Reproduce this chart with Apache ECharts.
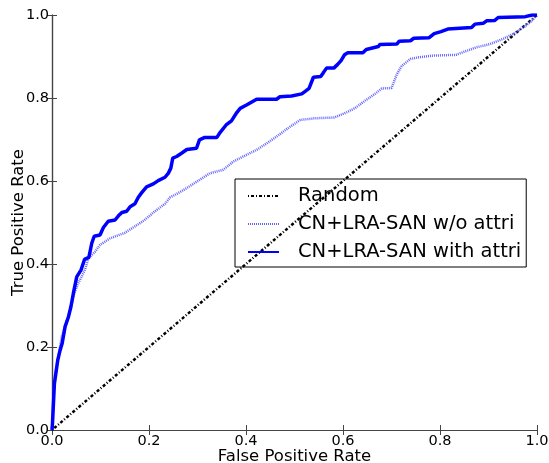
<!DOCTYPE html>
<html><head><meta charset="utf-8">
<script src="https://cdn.jsdelivr.net/npm/echarts@6/dist/echarts.min.js"></script>
<style>html,body{margin:0;padding:0;background:#fff}#c{width:549px;height:463px}</style>
</head><body><div id="c"></div>
<script>
var seriesNames = ['Random', 'CN+LRA-SAN w/o attri', 'CN+LRA-SAN with attri'];
var xTicks = [0, 0.2, 0.4, 0.6, 0.8, 1.0];
var randomFPR = [0, 1];
var randomTPR = [0, 1];
var woFPR = [0,0.002,0.004,0.006,0.013,0.02,0.027,0.034,0.04,0.046,0.054,0.068,0.075,0.089,0.099,0.12,0.15,0.17,0.19,0.21,0.233,0.243,0.271,0.298,0.326,0.353,0.374,0.401,0.422,0.443,0.463,0.484,0.491,0.512,0.54,0.582,0.603,0.624,0.645,0.666,0.68,0.70,0.711,0.721,0.739,0.756,0.784,0.833,0.851,0.875,0.903,0.931,0.952,0.973,0.99,1];
var woTPR = [0,0.05,0.1,0.13,0.177,0.225,0.25,0.275,0.3,0.33,0.353,0.386,0.414,0.43,0.446,0.462,0.475,0.49,0.505,0.525,0.545,0.56,0.578,0.598,0.619,0.627,0.647,0.663,0.675,0.691,0.707,0.725,0.731,0.747,0.751,0.753,0.763,0.775,0.793,0.81,0.823,0.824,0.857,0.877,0.894,0.898,0.902,0.904,0.912,0.922,0.93,0.943,0.955,0.971,0.987,1];
var withFPR = [0,0.001,0.003,0.005,0.008,0.012,0.016,0.021,0.027,0.034,0.039,0.044,0.051,0.06,0.067,0.076,0.082,0.087,0.099,0.106,0.116,0.13,0.137,0.144,0.154,0.161,0.171,0.178,0.185,0.195,0.209,0.219,0.233,0.24,0.245,0.249,0.257,0.267,0.278,0.298,0.304,0.315,0.34,0.346,0.359,0.37,0.381,0.388,0.401,0.422,0.463,0.47,0.494,0.498,0.515,0.522,0.53,0.539,0.554,0.559,0.566,0.581,0.589,0.596,0.603,0.61,0.641,0.648,0.673,0.676,0.711,0.716,0.739,0.746,0.777,0.788,0.802,0.816,0.865,0.872,0.889,0.896,0.913,0.92,0.976,0.99,1];
var withTPR = [0,0.016,0.064,0.112,0.137,0.169,0.189,0.209,0.249,0.273,0.297,0.329,0.369,0.386,0.411,0.416,0.45,0.467,0.47,0.488,0.503,0.506,0.516,0.524,0.527,0.538,0.545,0.561,0.572,0.586,0.593,0.601,0.609,0.619,0.631,0.655,0.659,0.667,0.676,0.679,0.699,0.705,0.705,0.716,0.735,0.745,0.765,0.775,0.783,0.797,0.797,0.803,0.805,0.809,0.81,0.816,0.823,0.85,0.852,0.86,0.872,0.872,0.881,0.89,0.904,0.909,0.909,0.917,0.924,0.929,0.93,0.937,0.938,0.944,0.945,0.955,0.96,0.966,0.97,0.978,0.98,0.986,0.987,0.994,0.996,1.0,1];

function zip(a, b) { return a.map(function (v, i) { return [v, b[i]]; }); }
var FONT = 'DejaVu Sans';
var frame = { show: true, lineStyle: { color: '#444', width: 1.2 } };
var tick = { show: true, inside: true, length: 5, lineStyle: { color: '#444', width: 1 } };
function fmt(v) { return v.toFixed(1); }

var chart = echarts.init(document.getElementById('c'));
chart.setOption({
  animation: false,
  backgroundColor: '#fff',
  grid: { left: 52, right: 12, top: 15, bottom: 33, containLabel: false, outerBoundsMode: 'none' },
  legend: {
    orient: 'vertical', left: 235, top: 179,
    data: [seriesNames[0], seriesNames[1], seriesNames[2]],
    borderColor: '#000', borderWidth: 1, borderRadius: 0,
    padding: [7, 5, 5, 12],
    itemWidth: 31, itemHeight: 20, itemGap: 8,
    itemStyle: { opacity: 0 },
    textStyle: { fontFamily: FONT, fontSize: 19.5, lineHeight: 20, color: '#000', padding: [0, 0, 0, 14] }
  },
  xAxis: [{
    type: 'value', min: 0, max: 1, interval: 0.2, position: 'bottom',
    name: 'False Positive Rate', nameLocation: 'middle', nameGap: 18, nameMoveOverlap: false,
    nameTextStyle: { fontFamily: FONT, fontSize: 16.5, color: '#000' },
    axisLine: frame, axisTick: tick, splitLine: { show: false },
    axisLabel: { fontFamily: FONT, fontSize: 14.5, color: '#000', margin: 4, formatter: fmt }
  }, {
    type: 'value', min: 0, max: 1, interval: 0.2, position: 'top',
    axisLine: frame, axisTick: tick, splitLine: { show: false }, axisLabel: { show: false }
  }],
  yAxis: [{
    type: 'value', min: 0, max: 1, interval: 0.2, position: 'left',
    name: 'True Positive Rate', nameLocation: 'middle', nameGap: 25, nameMoveOverlap: false,
    nameTextStyle: { fontFamily: FONT, fontSize: 16.5, color: '#000' },
    axisLine: frame, axisTick: tick, splitLine: { show: false },
    axisLabel: { fontFamily: FONT, fontSize: 14.5, color: '#000', margin: 3, formatter: fmt }
  }, {
    type: 'value', min: 0, max: 1, interval: 0.2, position: 'right',
    axisLine: frame, axisTick: tick, splitLine: { show: false }, axisLabel: { show: false }
  }],
  series: [{
    name: seriesNames[0], type: 'line', showSymbol: false, symbol: 'none',
    data: zip(randomFPR, randomTPR),
    lineStyle: { color: '#000', width: 2.5, type: [1, 2, 3, 2] },
    itemStyle: { color: '#000' }, z: 3
  }, {
    name: seriesNames[1], type: 'line', showSymbol: false, symbol: 'none',
    data: zip(woFPR, woTPR),
    lineStyle: { color: '#6666ff', width: 2.5, type: [1, 1] },
    itemStyle: { color: '#6666ff' }, z: 4
  }, {
    name: seriesNames[2], type: 'line', showSymbol: false, symbol: 'none',
    data: zip(withFPR, withTPR),
    lineStyle: { color: '#0000ff', width: 3.5 },
    itemStyle: { color: '#0000ff' }, z: 5
  }]
});
</script></body></html>
